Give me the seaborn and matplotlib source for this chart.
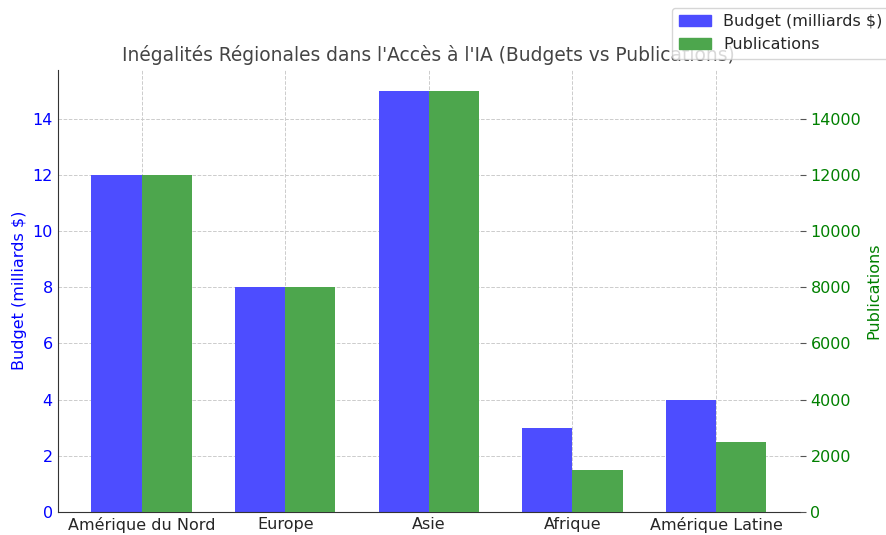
import pandas as pd
import matplotlib.pyplot as plt
import seaborn as sns
from matplotlib.patches import Patch

sns.set_style("white")
plt.rcParams["font.family"] = ["DejaVu Sans"]

# === Data ===
regions = ["Amérique du Nord", "Europe", "Asie", "Afrique", "Amérique Latine"]
budgets = [12, 8, 15, 3, 4]  # milliards $
publications = [12000, 8000, 15000, 1500, 2500]

lab_budget = "Budget (milliards $)"
lab_pub = "Publications"
series_order = [lab_budget, lab_pub]

df_budget = pd.DataFrame({"Région": regions, "Valeur": budgets, "Série": lab_budget})
df_pub = pd.DataFrame({"Région": regions, "Valeur": publications, "Série": lab_pub})

# blue / green at 70% opacity, flattened on white
c_blue = "#4d4dff"
c_green = "#4da64d"
palette = {lab_budget: c_blue, lab_pub: c_green}

fig, ax = plt.subplots(figsize=(8.86, 5.35), dpi=100)
ax2 = ax.twinx()

sns.barplot(
    data=df_budget, x="Région", y="Valeur", hue="Série", hue_order=series_order,
    palette=palette, saturation=1, width=0.7, dodge=True, linewidth=0,
    legend=False, ax=ax, order=regions,
)
sns.barplot(
    data=df_pub, x="Région", y="Valeur", hue="Série", hue_order=series_order,
    palette=palette, saturation=1, width=0.7, dodge=True, linewidth=0,
    legend=False, ax=ax2, order=regions,
)

ax.set_ylim(0, 15.75)
ax2.set_ylim(0, 15750)
ax.set_xlim(-0.585, 4.585)

ax.set_xlabel("")
ax.set_ylabel(lab_budget, color="blue", fontsize=11.5)
ax2.set_ylabel(lab_pub, color="green", fontsize=11.5)
ax.tick_params(axis="y", colors="blue", labelsize=11.5, length=0)
ax2.tick_params(axis="y", colors="green", labelsize=11.5, length=4, color="#555555")
ax.tick_params(axis="x", labelsize=11.5, length=0)

ax.grid(True, linestyle="--", color="#cccccc", linewidth=0.7)
ax.set_axisbelow(True)
for side in ["top", "right"]:
    ax.spines[side].set_visible(False)
for side in ["top", "right", "left", "bottom"]:
    ax2.spines[side].set_visible(False)
ax.spines["left"].set_color("#333333")
ax.spines["bottom"].set_color("#333333")

ax.set_title("Inégalités Régionales dans l'Accès à l'IA (Budgets vs Publications)",
             fontsize=13.4, color="#444444")

handles = [Patch(color=c_blue, label=lab_budget),
           Patch(color=c_green, label=lab_pub)]
fig.legend(handles=handles, loc="upper right", bbox_to_anchor=(1.0125, 1.0),
           fontsize=11.5)

plt.subplots_adjust(left=0.065, right=0.903, top=0.87, bottom=0.043)
plt.savefig("out.png", dpi=100)
